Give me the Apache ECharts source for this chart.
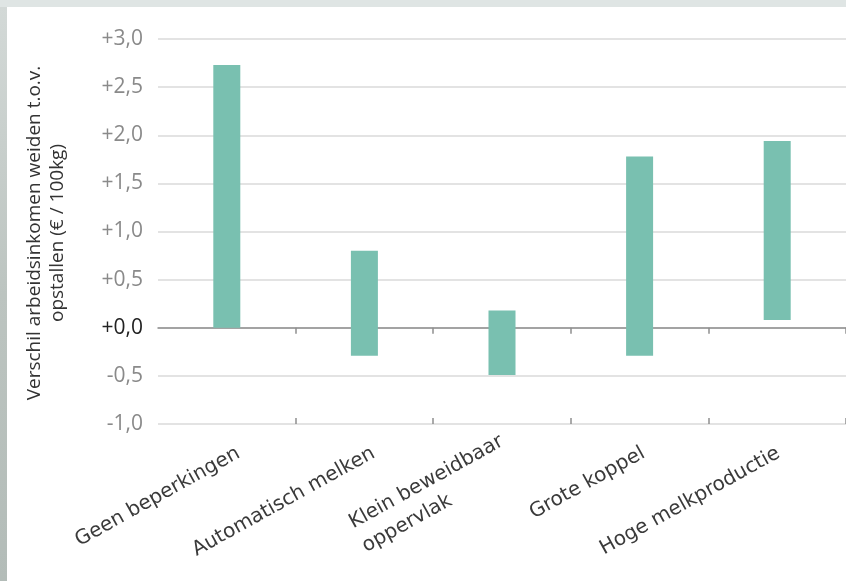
<!DOCTYPE html>
<html>
<head>
<meta charset="utf-8">
<script src="https://cdn.jsdelivr.net/npm/echarts@6/dist/echarts.min.js"></script>
<style>
  html, body { margin: 0; padding: 0; width: 846px; height: 581px; overflow: hidden; }
  body { background: #dfe5e4; position: relative; }
  #strip { position: absolute; left: 0; top: 7px; width: 7px; height: 574px;
           background: linear-gradient(180deg, #d3d9d7 0%, #bcc4c0 50%, #b3bcb8 100%); }
  #panel { position: absolute; left: 7px; top: 7px; width: 839px; height: 574px; background: #ffffff; }
  #chart { position: absolute; left: 0; top: 0; width: 846px; height: 581px; }
</style>
</head>
<body>
<div id="strip"></div>
<div id="panel"></div>
<div id="chart"></div>
<script>
// ---- data ----
var categories = ['Geen beperkingen', 'Automatisch melken', 'Klein beweidbaar\noppervlak', 'Grote koppel', 'Hoge melkproductie'];
var lowValues  = [0.00, -0.29, -0.49, -0.29, 0.08];
var highValues = [2.73,  0.80,  0.18,  1.78, 1.94];
var yTicks = [-1.0, -0.5, 0.0, 0.5, 1.0, 1.5, 2.0, 2.5, 3.0];
var yTitle = 'Verschil arbeidsinkomen weiden t.o.v.\nopstallen (€ / 100kg)';

var rangeData = categories.map(function (c, i) { return [i, lowValues[i], highValues[i]]; });

var LABEL_FONT = 'DejaVu Sans';
var LABEL_SIZE = 20;

function fmtY(v) {
  var s = Math.abs(v).toFixed(1).replace('.', ',');
  if (Math.abs(v) < 1e-9) return '{z|+0,0}';
  return (v > 0 ? '+' : '-') + s;
}

// multi-line labels: lines left-aligned inside a block as wide as the widest line
var mctx = document.createElement('canvas').getContext('2d');
mctx.font = LABEL_SIZE + 'px "' + LABEL_FONT + '"';
function blockWidth(v) {
  var w = 0;
  String(v).split('\n').forEach(function (l) { w = Math.max(w, Math.ceil(mctx.measureText(l).width)); });
  return w;
}
function fmtX(v) {
  var lines = String(v).split('\n');
  if (lines.length === 1) return v;
  var key = 'l' + blockWidth(v);
  return lines.map(function (l) { return '{' + key + '|' + l + '}'; }).join('\n');
}
var richX = {};
categories.forEach(function (c) {
  if (c.indexOf('\n') >= 0) {
    var w = blockWidth(c);
    richX['l' + w] = { width: w, align: 'left', fontFamily: LABEL_FONT, fontSize: LABEL_SIZE, color: '#3a3a3a', lineHeight: 27 };
  }
});

var chart = echarts.init(document.getElementById('chart'), null, { renderer: 'canvas' });
chart.setOption({
  backgroundColor: 'transparent',
  animation: false,
  grid: [
    { left: 158, right: 0, top: 39, bottom: 157 },
    { left: 171, right: -13, top: 39, bottom: 157 }
  ],
  graphic: [{
    type: 'text',
    x: 46, y: 233,
    rotation: Math.PI / 2,
    silent: true,
    style: {
      text: yTitle,
      x: 0, y: 0,
      align: 'center', verticalAlign: 'middle',
      fontFamily: 'Open Sans', fontSize: 19, lineHeight: 23,
      fill: '#333333'
    }
  }],
  xAxis: [
    {
      type: 'category', data: categories, gridIndex: 0,
      position: 'bottom',
      axisLine: { show: true, onZero: true, lineStyle: { color: '#8f8f8f', width: 1.5 } },
      axisTick: { show: true, inside: false, length: 6, interval: function (i) { return i > 0; },
                  lineStyle: { color: '#8f8f8f', width: 1.5 } },
      axisLabel: { show: false }
    },
    {
      type: 'category', data: categories, gridIndex: 0,
      position: 'bottom',
      axisLine: { show: true, onZero: true, lineStyle: { color: '#8f8f8f', width: 1.5, opacity: 0 } },
      axisTick: { show: true, inside: true, length: 6, interval: function (i) { return i > 0; },
                  lineStyle: { color: '#8f8f8f', width: 1.5 } },
      axisLabel: { show: false }
    },
    {
      type: 'category', data: categories, gridIndex: 1,
      position: 'bottom',
      axisLine: { show: false, onZero: false },
      axisTick: { show: false },
      axisLabel: {
        interval: 0, rotate: 29, margin: 28,
        fontFamily: LABEL_FONT, fontSize: LABEL_SIZE, color: '#3a3a3a', lineHeight: 27,
        formatter: fmtX, rich: richX
      }
    }
  ],
  yAxis: [
    {
      type: 'value', gridIndex: 0,
      min: yTicks[0], max: yTicks[yTicks.length - 1], interval: 0.5,
      axisLine: { show: false },
      axisTick: { show: false },
      splitLine: { show: true, lineStyle: { color: '#dadada', width: 1.5 } },
      axisLabel: {
        margin: 15,
        fontFamily: 'Open Sans', fontSize: 21, color: '#8a8a8a',
        formatter: fmtY,
        rich: { z: { fontFamily: 'Open Sans', fontSize: 21, color: '#222222' } }
      }
    },
    {
      type: 'value', gridIndex: 1,
      min: yTicks[0], max: yTicks[yTicks.length - 1], interval: 0.5,
      show: false
    }
  ],
  series: [{
    type: 'custom',
    xAxisIndex: 0,
    yAxisIndex: 0,
    data: rangeData,
    encode: { x: 0, y: [1, 2] },
    renderItem: function (params, api) {
      var idx = api.value(0);
      var p1 = api.coord([idx, api.value(1)]);
      var p2 = api.coord([idx, api.value(2)]);
      var w = 27;
      return {
        type: 'rect',
        shape: { x: p1[0] - w / 2, y: p2[1], width: w, height: p1[1] - p2[1] },
        style: { fill: '#79c0b0' }
      };
    },
    z: 3
  }]
});
</script>
</body>
</html>
